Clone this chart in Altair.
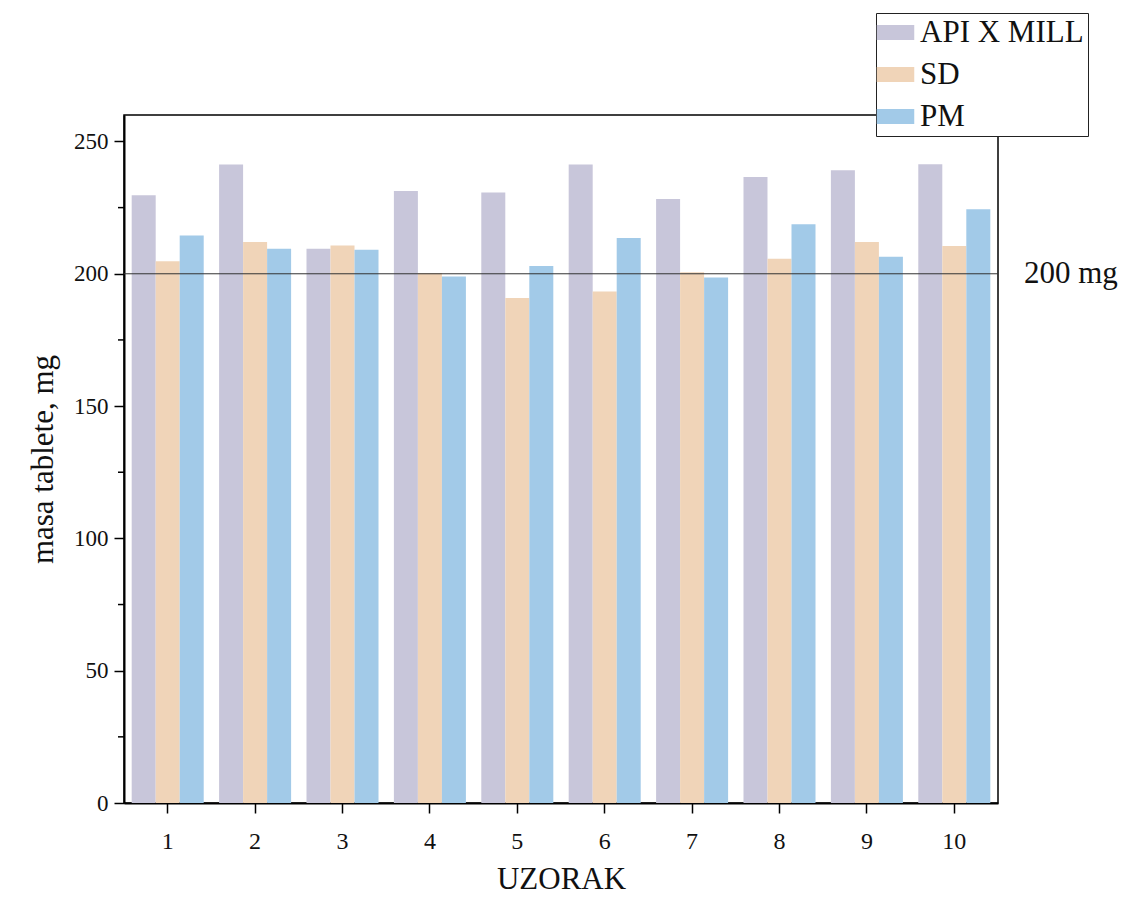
import altair as alt
import pandas as pd

samples = [str(i) for i in range(1, 11)]
series = ["API X MILL", "SD", "PM"]
api = [229.7, 241.3, 209.5, 231.3, 230.7, 241.3, 228.3, 236.6, 239.1, 241.4]
sd = [204.7, 212.0, 210.7, 200.3, 190.8, 193.3, 200.6, 205.7, 212.0, 210.5]
pm = [214.5, 209.5, 209.1, 199.0, 202.9, 213.5, 198.6, 218.7, 206.4, 224.4]
colors = ["#c8c6da", "#f0d4b8", "#a2cae8"]
y_ticks = [0, 50, 100, 150, 200, 250]
minor_ticks = [25, 75, 125, 175, 225]
ref_value = [200]
ref_label = ["200 mg"]

rows = []
for s, vals in zip(series, [api, sd, pm]):
    for smp, v in zip(samples, vals):
        rows.append({"sample": smp, "series": s, "mass": v})
df = pd.DataFrame(rows)

W, H = 874, 688
FONT = "Liberation Serif"
yscale = alt.Scale(domain=[0, 260], nice=False, zero=True)

bars = alt.Chart(df).mark_bar(opacity=1).encode(
    x=alt.X("sample:N", sort=samples,
            scale=alt.Scale(paddingInner=0.176, paddingOuter=0.088),
            axis=alt.Axis(title="UZORAK", labelAngle=0, titlePadding=11, labelPadding=16,
                          labelFontSize=24)),
    xOffset=alt.XOffset("series:N", sort=series,
                        scale=alt.Scale(paddingInner=0, paddingOuter=0)),
    y=alt.Y("mass:Q", scale=yscale,
            axis=alt.Axis(values=y_ticks, title="masa tablete, mg", grid=False,
                          titlePadding=14, labelPadding=6)),
    color=alt.Color("series:N", sort=series,
                    scale=alt.Scale(domain=series, range=colors),
                    legend=alt.Legend(orient="none", legendX=752, legendY=-102,
                                      title=None,
                                      symbolType="M-1.25,-0.5H1.25V0.5H-1.25Z",
                                      symbolSize=900, symbolStrokeWidth=0,
                                      symbolOpacity=1,
                                      labelFont=FONT, labelFontSize=31,
                                      labelColor="#111", labelOffset=9,
                                      labelLimit=300,
                                      rowPadding=10, padding=4,
                                      strokeColor="#222", fillColor="white")),
)

ref_df = pd.DataFrame({"v": ref_value, "label": ref_label})
rule = alt.Chart(ref_df).mark_rule(color="#333", strokeWidth=1).encode(
    y=alt.Y("v:Q", scale=yscale)
)
ref_text = alt.Chart(ref_df).mark_text(
    align="left", baseline="middle", font=FONT, fontSize=31, color="#111"
).encode(
    y=alt.Y("v:Q", scale=yscale), x=alt.value(W + 26), text="label:N"
)

minor_df = pd.DataFrame({"v": minor_ticks})
minor = alt.Chart(minor_df).mark_rule(color="black", strokeWidth=1.5).encode(
    y=alt.Y("v:Q", scale=yscale), x=alt.value(-6), x2=alt.value(0)
)

chart = alt.layer(bars, rule, ref_text, minor).properties(
    width=W, height=H,
    autosize=alt.AutoSizeParams(type="none"),
    padding={"left": 116, "top": 107, "right": 142, "bottom": 96},
).configure_view(
    stroke="black", strokeWidth=1.5
).configure_axis(
    domainColor="black", domainWidth=2, tickColor="black", tickWidth=1.5,
    tickSize=10, labelFont=FONT, labelFontSize=23, labelColor="#111",
    titleFont=FONT, titleFontSize=31, titleFontWeight="normal", titleColor="#111",
)

chart.save("out.html", embed_options={"renderer": "svg", "actions": False})
